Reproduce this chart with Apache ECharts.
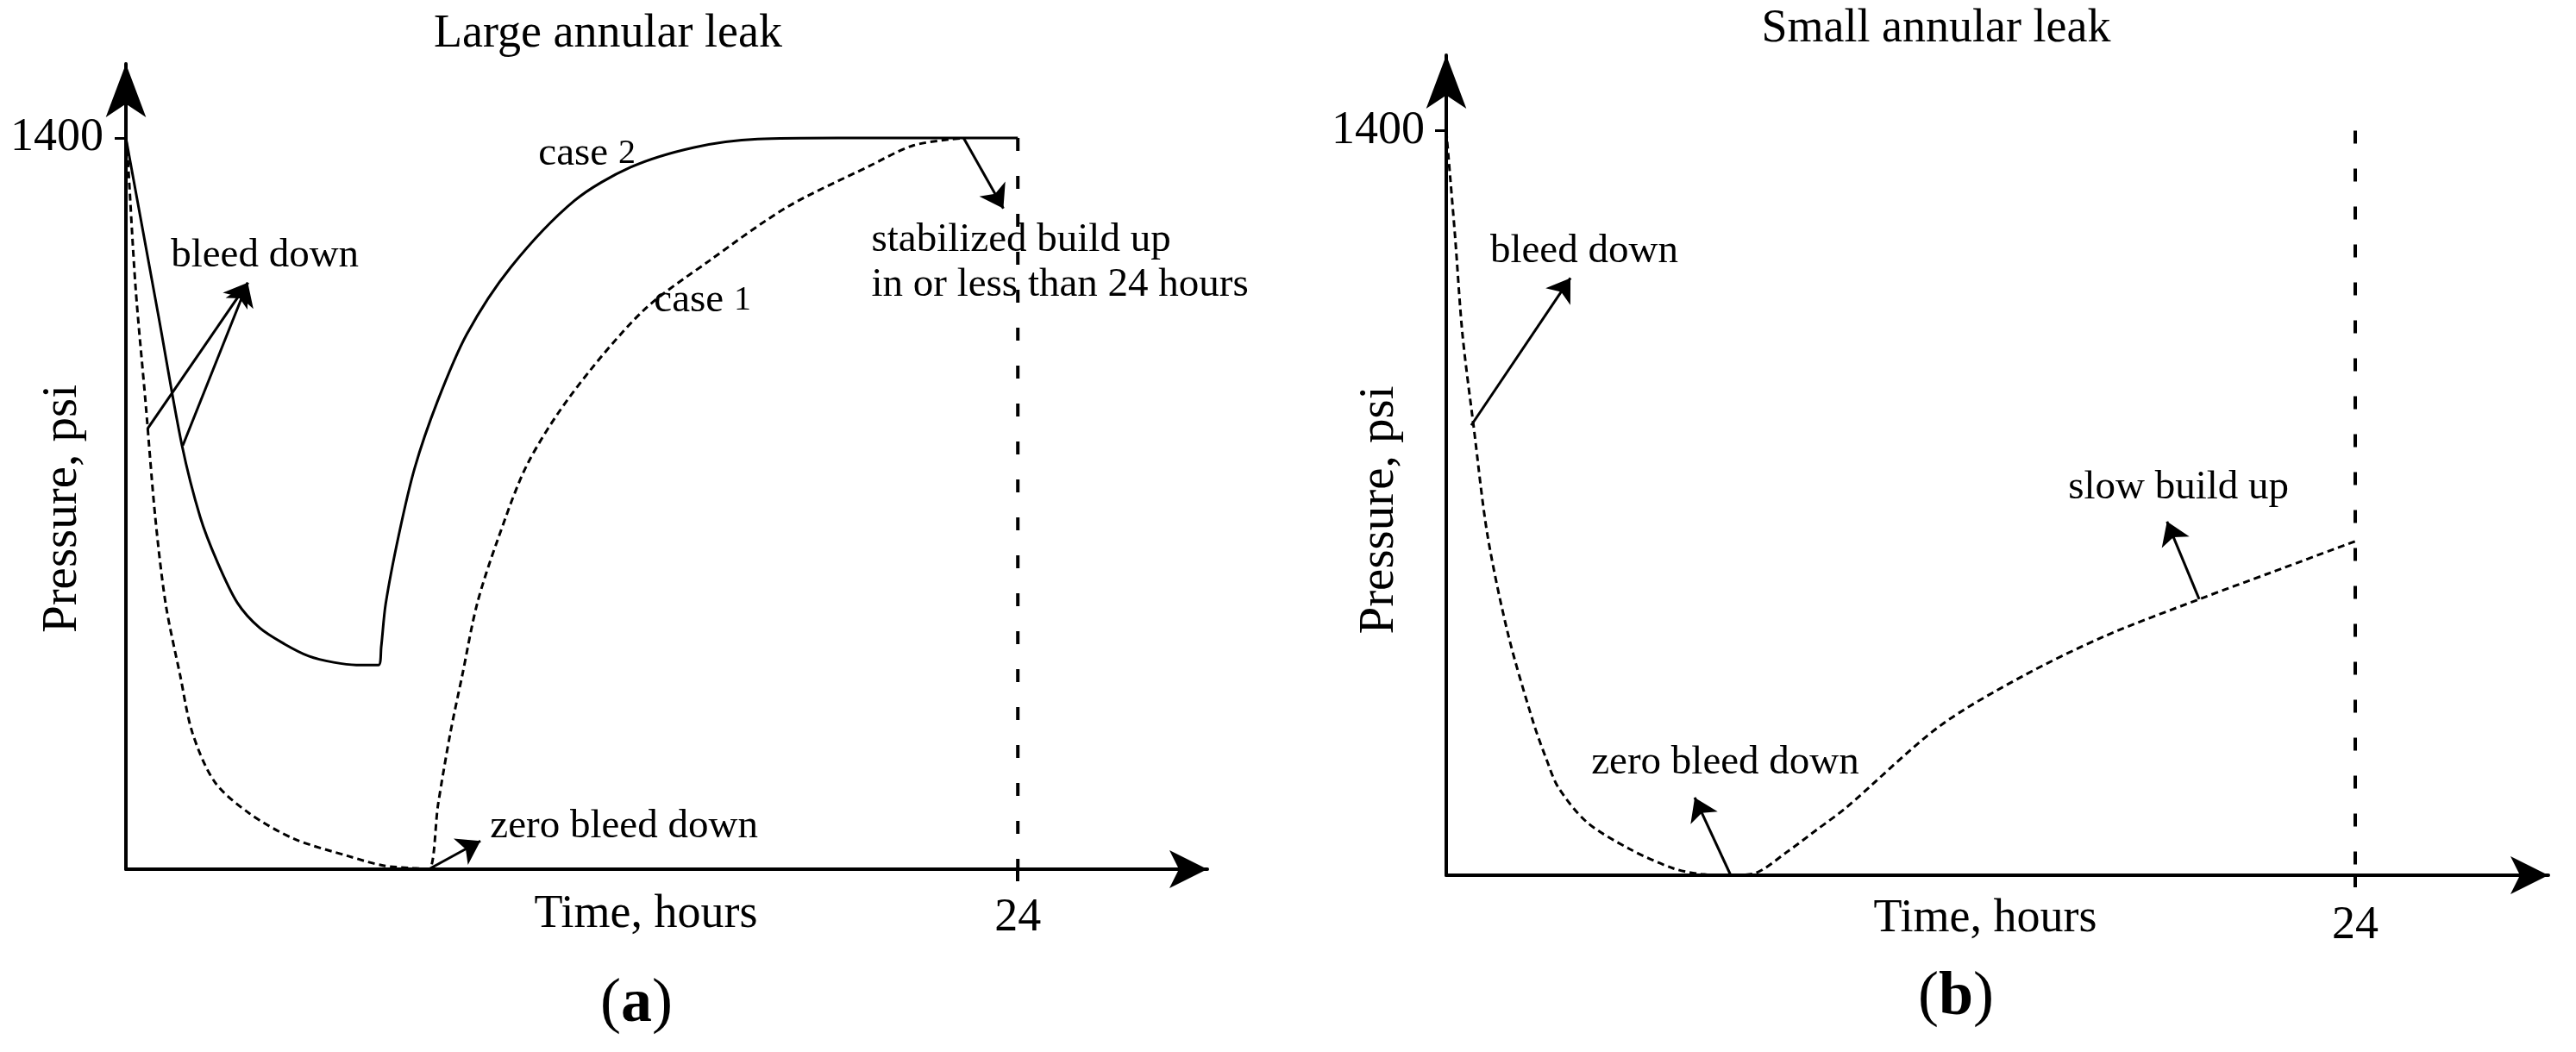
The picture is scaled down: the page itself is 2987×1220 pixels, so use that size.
<!DOCTYPE html>
<html>
<head>
<meta charset="utf-8">
<script src="https://cdn.jsdelivr.net/npm/echarts@6/dist/echarts.min.js"></script>
<style>
html,body{margin:0;padding:0;background:#fff;}
#chart{width:2987px;height:1220px;}
</style>
</head>
<body>
<div id="chart"></div>
<script>
// ---------- data (time in hours, pressure in psi) ----------
const panelTitles = ['Large annular leak', 'Small annular leak'];
const panelLetters = ['a', 'b'];
const xAxisName = 'Time, hours';
const yAxisName = 'Pressure, psi';
const xTickValues = [24];
const yTickValues = [1400];
const X_MAX = 29.1;
const Y_MAX = 1542;

// Panel (a) – case 2 (solid)
const caseTwoA = [[0,1400],[0.88,1058],[1.51,811],[2.0,674],[2.45,590],[3.0,510],[3.6,462],[4.27,431],[4.92,408],[5.59,396],[6.2,391],[6.8,391],[6.87,426],[6.99,508],[7.34,639],[7.77,768],[8.38,895],[9.17,1024],[10.35,1152],[12.07,1280],[13.58,1344],[15.29,1382],[17.0,1398],[19.15,1400],[24,1400]];
// Panel (a) – case 1 (dotted)
const caseOneA = [[0,1400],[0.04,1372],[0.26,1114],[0.53,893],[0.79,674],[1.07,508],[1.46,371],[1.79,261],[2.39,167],[3.32,107],[4.53,58],[5.99,25],[6.92,7],[7.73,2],[8.15,0],[8.4,124],[8.73,261],[9.05,371],[9.45,508],[10.0,630],[10.8,775],[12.0,910],[13.9,1068],[15.7,1165],[17.8,1268],[20.0,1346],[21.2,1386],[22.54,1400]];
// Panel (b) – small leak (dotted)
const curveB = [[0,1400],[0.23,1204],[0.43,1016],[0.73,840],[1.09,639],[1.64,451],[2.3,287],[2.64,219],[2.96,165],[3.71,100],[4.85,49],[5.99,13],[6.74,2],[7.51,0],[8.11,3],[9.02,45],[9.79,86],[10.54,126],[13.02,280],[15.21,374],[17.4,450],[19.88,519],[21.77,569],[24,628]];
// vertical 24-hour reference lines
const dayLineA = [[24,1400],[24,0]];
const dayLineB = [[24,1400],[24,0]];

// annotation arrows: [from, to]
const arrowsA = [
  [[0.58,843],[3.28,1123]],
  [[1.53,811],[3.28,1123]],
  [[8.15,0],[9.54,54]],
  [[22.54,1400],[23.61,1265]]
];
const arrowsB = [
  [[0.66,846],[3.28,1123]],
  [[7.51,0],[6.56,146]],
  [[19.88,519],[19.03,665]]
];
// annotation texts: [t, P, text]
const notesA = [
  [1.21,1175,'bleed down'],
  [11.1,1370,'case {n|2}'],
  [14.21,1088,'case {n|1}'],
  [9.8,81,'zero bleed down'],
  [20.06,1162,'stabilized build up\nin or less than 24 hours']
];
const notesB = [
  [1.16,1173,'bleed down'],
  [16.42,728,'slow build up'],
  [3.83,212,'zero bleed down']
];

// ---------- chart ----------
const SERIF = '"Liberation Serif", "Times New Roman", serif';
const BLACK = '#000';
const grids = [
  {left:146, top:74, width:1254, height:934, containLabel:false, outerBoundsMode:'none'},
  {left:1677, top:64, width:1278, height:951, containLabel:false, outerBoundsMode:'none'}
];
const plain = v => String(v);

function xAxisFor(i, labelMargin, nameGap, namePad){
  return {
    type:'value', gridIndex:i, min:0, max:X_MAX,
    axisLine:{show:true, onZero:false, lineStyle:{color:BLACK,width:4}, symbol:['none','arrow'], symbolSize:[33,44]},
    axisTick:{show:true, customValues:xTickValues, length:14, lineStyle:{color:BLACK,width:4}},
    axisLabel:{show:true, customValues:xTickValues, formatter:plain, margin:labelMargin, color:BLACK, fontFamily:SERIF, fontSize:54},
    splitLine:{show:false},
    name:xAxisName, nameLocation:'middle', nameGap:nameGap, nameMoveOverlap:false,
    nameTextStyle:{color:BLACK, fontFamily:SERIF, fontSize:54, padding:[0,namePad,0,0]}
  };
}
function yAxisMain(i, labelMargin, nameGap, namePad){
  return {
    type:'value', gridIndex:i, min:0, max:Y_MAX,
    axisLine:{show:true, onZero:false, lineStyle:{color:BLACK,width:4}, symbol:['none','arrow'], symbolSize:[35,62]},
    axisTick:{show:true, customValues:yTickValues, length:13, lineStyle:{color:BLACK,width:3}},
    axisLabel:{show:true, customValues:yTickValues, formatter:plain, margin:labelMargin, color:BLACK, fontFamily:SERIF, fontSize:54},
    splitLine:{show:false},
    name:yAxisName, nameLocation:'middle', nameRotate:90, nameGap:nameGap, nameMoveOverlap:false,
    nameTextStyle:{color:BLACK, fontFamily:SERIF, fontSize:57, padding:[0,namePad,0,0]}
  };
}
function yAxisInner(i){
  return {
    type:'value', gridIndex:i, min:0, max:Y_MAX,
    axisLine:{show:false},
    axisTick:{show:true, inside:true, customValues:yTickValues, length:12, lineStyle:{color:BLACK,width:3}},
    axisLabel:{show:false}, splitLine:{show:false}
  };
}

function curve(data, xi, yi, dashed, width){
  return {
    type:'line', xAxisIndex:xi, yAxisIndex:yi, data:data, showSymbol:false, symbol:'none',
    smooth:0.3, silent:true,
    lineStyle:{color:BLACK, width:width, type:dashed || 'solid'}
  };
}
function arrows(list, xi, yi){
  return {
    type:'lines', coordinateSystem:'cartesian2d', xAxisIndex:xi, yAxisIndex:yi, silent:true,
    symbol:['none','arrow'], symbolSize:[15,26],
    lineStyle:{color:BLACK, width:3, opacity:1},
    data:list.map(a => ({coords:a}))
  };
}
function notes(list, xi, yi){
  return {
    type:'scatter', xAxisIndex:xi, yAxisIndex:yi, symbolSize:0, silent:true,
    itemStyle:{opacity:1},
    data:list.map(n => ({value:[n[0],n[1]], name:n[2]})),
    label:{show:true, position:'right', distance:0, formatter:'{b}', color:BLACK, opacity:1,
      fontFamily:SERIF, fontSize:47, lineHeight:52,
      rich:{n:{fontFamily:SERIF, fontSize:40, color:BLACK}}}
  };
}
function letterTitle(letter, cx, top){
  return {
    text:'{p|(}{b|' + letter + '}{p|)}', left:cx, top:top, textAlign:'center',
    textStyle:{rich:{
      p:{fontFamily:SERIF, fontSize:72, fontWeight:'normal', color:BLACK},
      b:{fontFamily:SERIF, fontSize:72, fontWeight:'bold', color:BLACK}
    }}
  };
}

const option = {
  animation:false,
  backgroundColor:'#fff',
  title:[
    {text:panelTitles[0], left:700, top:8, textAlign:'center', textStyle:{fontFamily:SERIF, fontSize:54, fontWeight:'normal', color:BLACK}},
    {text:panelTitles[1], left:2240, top:2, textAlign:'center', textStyle:{fontFamily:SERIF, fontSize:54, fontWeight:'normal', color:BLACK}},
    letterTitle(panelLetters[0], 733, 1124),
    letterTitle(panelLetters[1], 2263, 1116)
  ],
  grid:grids,
  xAxis:[xAxisFor(0,30,26,48), xAxisFor(1,32,24,28)],
  yAxis:[yAxisMain(0,26,44,98), yAxisInner(0), yAxisMain(1,25,48,104), yAxisInner(1)],
  series:[
    curve(caseTwoA,0,0,'solid',3),
    curve(caseOneA,0,0,[8,5],3),
    {type:'line', xAxisIndex:0, yAxisIndex:0, data:dayLineA, showSymbol:false, symbol:'none', silent:true,
      lineStyle:{color:BLACK, width:4, type:[15,29]}},
    arrows(arrowsA,0,0),
    notes(notesA,0,0),
    curve(curveB,1,2,[8,5],3),
    {type:'line', xAxisIndex:1, yAxisIndex:2, data:dayLineB, showSymbol:false, symbol:'none', silent:true,
      lineStyle:{color:BLACK, width:4, type:[15,29]}},
    arrows(arrowsB,1,2),
    notes(notesB,1,2)
  ]
};

const chart = echarts.init(document.getElementById('chart'), null, {renderer:'canvas'});
chart.setOption(option);
</script>
</body>
</html>
